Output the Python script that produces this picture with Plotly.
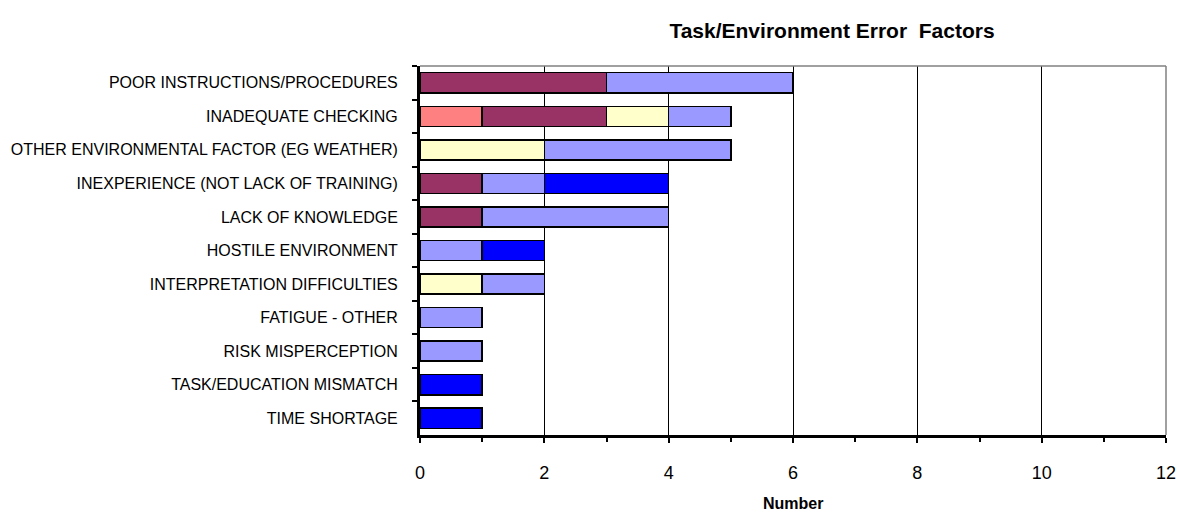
import plotly.graph_objects as go

# Error factors, listed top to bottom
categories = [
    "POOR INSTRUCTIONS/PROCEDURES",
    "INADEQUATE CHECKING",
    "OTHER ENVIRONMENTAL FACTOR (EG WEATHER)",
    "INEXPERIENCE (NOT LACK OF TRAINING)",
    "LACK OF KNOWLEDGE",
    "HOSTILE ENVIRONMENT",
    "INTERPRETATION DIFFICULTIES",
    "FATIGUE - OTHER",
    "RISK MISPERCEPTION",
    "TASK/EDUCATION MISMATCH",
    "TIME SHORTAGE",
]

# Stacked segment counts per category (stack order left to right)
series_a = [0, 1, 0, 0, 0, 0, 0, 0, 0, 0, 0]
series_b = [3, 2, 0, 1, 1, 0, 0, 0, 0, 0, 0]
series_c = [0, 1, 2, 0, 0, 0, 1, 0, 0, 0, 0]
series_d = [3, 1, 3, 1, 3, 1, 1, 1, 1, 0, 0]
series_e = [0, 0, 0, 2, 0, 1, 0, 0, 0, 1, 1]

series = [
    ("A", series_a, "#FF8080"),
    ("B", series_b, "#993366"),
    ("C", series_c, "#FFFFCC"),
    ("D", series_d, "#9999FF"),
    ("E", series_e, "#0000FF"),
]

x_ticks = [0, 2, 4, 6, 8, 10, 12]

fig = go.Figure()
for name, vals, color in series:
    fig.add_trace(go.Bar(
        y=categories, x=vals, name=name, orientation="h",
        marker=dict(color=color, line=dict(color="black", width=1.5)),
    ))

font_family = "Liberation Sans, Arial, sans-serif"

fig.update_layout(
    width=1178, height=515,
    barmode="stack", bargap=0.4,
    showlegend=False,
    plot_bgcolor="white", paper_bgcolor="white",
    margin=dict(l=420, r=12, t=66, b=80, autoexpand=False),
    font=dict(family=font_family, color="black"),
    title=dict(
        text="<b>Task/Environment Error  Factors</b>",
        x=832 / 1178, xref="container", xanchor="center",
        y=1 - 31 / 515, yref="container", yanchor="middle",
        font=dict(size=21, family=font_family, color="black"),
    ),
    xaxis=dict(
        range=[0, 12], tickvals=x_ticks, ticktext=[str(v) for v in x_ticks],
        showgrid=True, gridcolor="black", gridwidth=1,
        showline=True, linecolor="black", linewidth=3,
        ticks="outside", ticklen=5, tickwidth=1.5, tickcolor="black",
        minor=dict(dtick=1, ticks="outside", ticklen=4, tickcolor="black", showgrid=False),
        tickfont=dict(size=18), ticklabelstandoff=14,
        zeroline=False, automargin=False,
    ),
    yaxis=dict(
        categoryorder="array", categoryarray=categories, autorange="reversed",
        showline=True, linecolor="black", linewidth=3,
        ticks="outside", ticklen=5, tickwidth=1.5, tickcolor="black",
        tickson="boundaries", showgrid=False, automargin=False,
        tickfont=dict(size=16), ticklabelstandoff=16,
    ),
)

# X-axis title
fig.add_annotation(
    text="<b>Number</b>", xref="paper", x=0.5, xanchor="center",
    yref="paper", y=-(503 - 435) / (515 - 66 - 80), yanchor="middle",
    showarrow=False, font=dict(size=16),
)

# Light frame on the top and right edges of the plot area
fig.add_shape(type="line", xref="paper", yref="paper", x0=0, x1=1, y0=1, y1=1,
              line=dict(color="#808080", width=1.5))
fig.add_shape(type="line", xref="paper", yref="paper", x0=1, x1=1, y0=0, y1=1,
              line=dict(color="#808080", width=1.5))

fig.write_html("out.html")
